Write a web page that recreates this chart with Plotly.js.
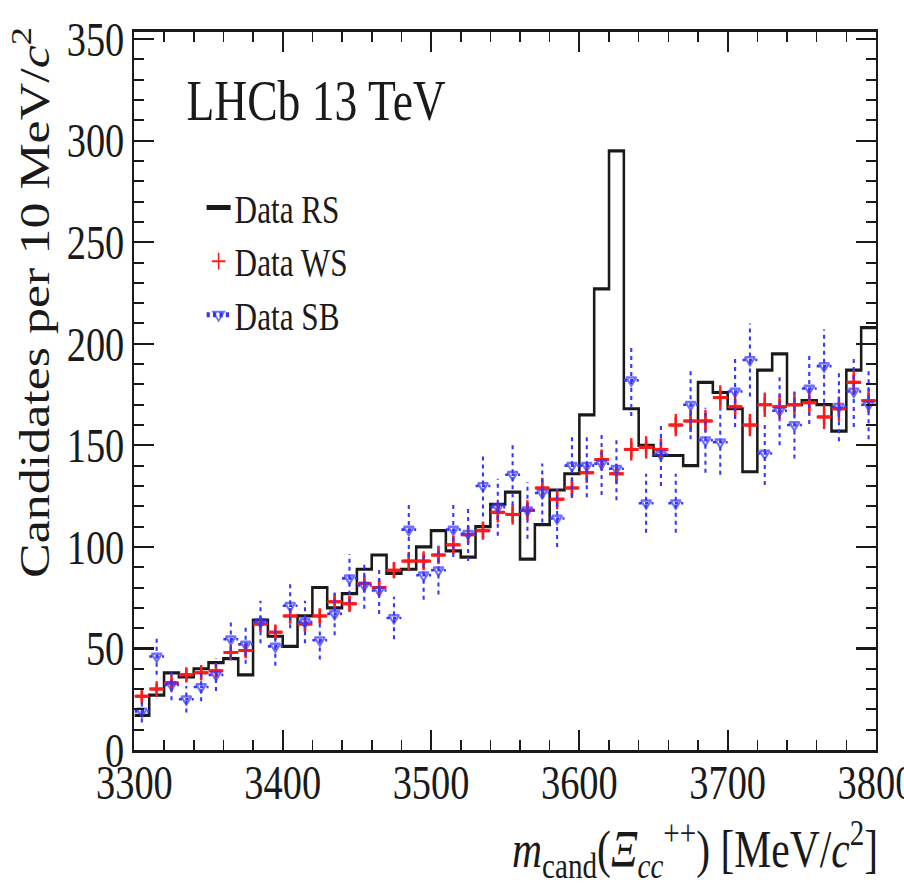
<!DOCTYPE html>
<html>
<head>
<meta charset="utf-8">
<script src="https://cdn.plot.ly/plotly-3.0.1.min.js"></script>
<style>
  html, body { margin: 0; padding: 0; background: #ffffff; overflow: hidden; width: 904px; height: 884px; }
  #plot { width: 1130px; height: 884px; transform: scaleX(0.8); transform-origin: 0 0; }
</style>
</head>
<body>
<div id="plot"></div>
<script>
// ---- data ----
const binCenters = [3305,3315,3325,3335,3345,3355,3365,3375,3385,3395,
                    3405,3415,3425,3435,3445,3455,3465,3475,3485,3495,
                    3505,3515,3525,3535,3545,3555,3565,3575,3585,3595,
                    3605,3615,3625,3635,3645,3655,3665,3675,3685,3695,
                    3705,3715,3725,3735,3745,3755,3765,3775,3785,3795];
const binHalfWidth = 5;

const dataRS = [17,27,38,36,40,43,45,37,64,56,
                51,66,80,70,77,89,96,87,89,100,
                108,98,95,110,121,127,94,111,128,136,
                165,227,295,168,150,145,145,140,181,176,
                168,137,187,195,170,172,170,157,187,208];

const dataWS = [26.5,30,33,37,38,39,48,49,62,58,
                66,62,66,73,72,82,80,88.5,93,93,
                96,101,106,108,117,116,118,129,123.5,129,
                136.5,143,136,148,149,148,160,162,162,173.5,
                169,160,170,169,170,171,164,168,181,172];
const errWS = [2.5,2.5,2.5,3,3,3,3,3,3.5,3.5,
               3.5,3.5,3.5,4,4,4,4,4,4.5,4.5,
               4.5,4.5,4.5,4.5,5,5,5,5,5,5,
               5,5,5,5.5,5.5,5.5,5.5,5.5,5.5,6,
               6,5.5,6,6,6,6,6,6,6,6];

const dataSB = [19,46,32,25,31,37,54.5,52,63,51,
                71,63,54,67,84.5,81,78.5,65,108.5,86,
                88.5,108.5,106.5,130,119.5,135.5,118,126.5,114,140,
                140,141,138.5,182,121.5,145.5,121.5,170,152.5,151.5,
                176.5,192,146,167,160,178,189,169,176.5,170];
const errSB = [5.5,9,7.5,6.5,7,8,9.5,9.5,10.5,9.5,
               11,10.5,9.5,10.5,12,11.5,11.5,10.5,13.5,12,
               12,13.5,13.5,15,14,15,14,14.5,14,15.5,
               15.5,15.5,15.5,17.5,14.5,15.5,14.5,17,16,16,
               17.5,18,15.5,17,16.5,17.5,18,17,17.5,17];

const xTickVals = [3300,3400,3500,3600,3700,3800];
const yTickVals = [0,50,100,150,200,250,300,350];

// ---- styles ----
const FONT = "Liberation Serif, 'Times New Roman', Times, serif";
const INK = '#1a1a1a';
const RED = '#ff1a1a';
const BLUE = '#3535ff';
const SB_MARKER = 11;

// RS step histogram from bin edges
const edges = binCenters.map(c => c - binHalfWidth).concat([binCenters[binCenters.length - 1] + binHalfWidth]);
const rsY = dataRS.concat([dataRS[dataRS.length - 1]]);

// SB: dotted error bars as line segments, with the marker at the centre point
const sbX = [], sbY = [], sbSize = [];
binCenters.forEach((c, i) => {
  sbX.push(c, c, c, null, c - binHalfWidth, c + binHalfWidth, null);
  sbY.push(dataSB[i] - errSB[i], dataSB[i], dataSB[i] + errSB[i], null, dataSB[i], dataSB[i], null);
  sbSize.push(0, SB_MARKER, 0, 0, 0, 0, 0);
});

const traces = [
  {
    type: 'scatter', mode: 'lines', name: 'Data RS',
    x: edges, y: rsY,
    line: { shape: 'hv', color: INK, width: 3.2 },
    hoverinfo: 'skip'
  },
  {
    type: 'scatter', mode: 'markers', name: 'Data WS',
    x: binCenters, y: dataWS,
    marker: { symbol: 'cross-thin', size: 11, color: RED, line: { width: 3, color: RED } },
    error_y: { type: 'data', array: errWS, visible: true, color: RED, thickness: 3, width: 0 },
    error_x: { type: 'constant', value: binHalfWidth, visible: true, color: RED, thickness: 3, width: 0 }
  },
  {
    type: 'scatter', mode: 'lines+markers', name: 'Data SB',
    x: sbX, y: sbY, connectgaps: false,
    line: { color: BLUE, width: 2.6, dash: '4px,4px' },
    marker: { symbol: 'triangle-down-open', size: sbSize, color: BLUE, line: { width: 2.5, color: BLUE } },
    hoverinfo: 'skip'
  }
];

const axisCommon = {
  showline: true, linecolor: INK, linewidth: 3,
  mirror: 'allticks', ticks: 'inside', tickcolor: INK, tickwidth: 2.2,
  showgrid: false, zeroline: false, ticklabeloverflow: 'allow',
  tickfont: { family: FONT, size: 48, color: INK }
};

const layout = {
  width: 1130, height: 884,
  margin: { l: 168, r: 35, t: 32, b: 134 },
  paper_bgcolor: '#ffffff', plot_bgcolor: '#ffffff',
  showlegend: true,
  legend: {
    x: 0.092, y: 0.80, xanchor: 'left', yanchor: 'top',
    bgcolor: 'rgba(0,0,0,0)', borderwidth: 0, itemsizing: 'constant',
    font: { family: FONT, size: 39, color: INK },
    tracegroupgap: 0
  },
  xaxis: Object.assign({}, axisCommon, {
    range: [3300, 3800], tickvals: xTickVals, ticklen: 20, ticklabelstandoff: -12,
    minor: { dtick: 20, ticks: 'inside', ticklen: 10, tickwidth: 2, tickcolor: INK }
  }),
  yaxis: Object.assign({}, axisCommon, {
    range: [0, 353.5], tickvals: yTickVals, ticklen: 25,
    minor: { dtick: 10, ticks: 'inside', ticklen: 12, tickwidth: 2, tickcolor: INK }
  }),
  annotations: [
    {
      text: 'LHCb 13 TeV', xref: 'paper', yref: 'paper',
      x: 0.068, y: 0.905, xanchor: 'left', yanchor: 'middle', showarrow: false,
      font: { family: FONT, size: 57, color: INK }
    },
    {
      text: 'Candidates per 10 MeV/<i>c</i><sup>2</sup>', xref: 'paper', yref: 'paper',
      x: -0.138, y: 0.6226, xanchor: 'center', yanchor: 'middle', textangle: -90, showarrow: false,
      font: { family: FONT, size: 52, color: INK }
    },
    {
      text: '<i>m</i><sub>cand</sub>(<i>Ξ</i><sub><i>cc</i></sub><sup>++</sup>) [MeV/<i>c</i><sup>2</sup>]',
      xref: 'paper', yref: 'paper',
      x: 1.005, y: -0.139, xanchor: 'right', yanchor: 'middle', showarrow: false,
      font: { family: FONT, size: 52, color: INK }
    }
  ]
};

Plotly.newPlot('plot', traces, layout, { staticPlot: true, displayModeBar: false });
</script>
</body>
</html>
